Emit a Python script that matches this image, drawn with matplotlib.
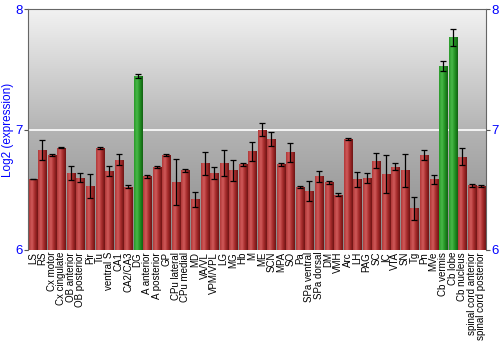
import numpy as np
import matplotlib
matplotlib.use("Agg")
import matplotlib.pyplot as plt
from matplotlib.colors import LinearSegmentedColormap

regions = ["LS", "RS", "Cx motor", "Cx cingulate", "OB anterior", "OB posterior", "Pir", "Tu",
           "ventral S", "CA1", "CA2/CA3", "DG", "A anterior", "A posterior", "GP", "CPu lateral",
           "CPu medial", "MD", "VA/VL", "VPM/VPL", "LG", "MG", "Hb", "M", "ME", "SCN", "MPA", "SO",
           "Pa", "SPa ventral", "SPa dorsal", "DM", "VMH", "Arc", "LH", "PAG", "SC", "IC", "VTA",
           "SN", "Tg", "Pn", "MVe", "Cb vermis", "Cb lobe", "Cb nucleus",
           "spinal cord anterior", "spinal cord posterior"]
values = [6.59, 6.83, 6.79, 6.85, 6.64, 6.60, 6.53, 6.845, 6.655, 6.75, 6.525, 7.445,
          6.61, 6.69, 6.79, 6.565, 6.66, 6.42, 6.72, 6.635, 6.72, 6.66, 6.71, 6.82,
          7.00, 6.92, 6.71, 6.81, 6.52, 6.49, 6.61, 6.56, 6.46, 6.92, 6.585, 6.595,
          6.74, 6.63, 6.69, 6.66, 6.345, 6.79, 6.585, 7.53, 7.765, 6.775, 6.535, 6.53]
errors = [0.003, 0.08, 0.01, 0.006, 0.06, 0.04, 0.10, 0.01, 0.045, 0.045, 0.01, 0.02,
          0.01, 0.01, 0.01, 0.19, 0.01, 0.06, 0.095, 0.05, 0.11, 0.09, 0.012, 0.08,
          0.055, 0.06, 0.01, 0.08, 0.01, 0.085, 0.045, 0.015, 0.015, 0.01, 0.066, 0.04,
          0.062, 0.16, 0.028, 0.135, 0.093, 0.043, 0.036, 0.04, 0.07, 0.07, 0.01, 0.008]
highlight = ["DG", "Cb vermis", "Cb lobe"]

red_map = LinearSegmentedColormap.from_list("r", ["#b03838", "#d05a5a", "#a42a2a", "#6e1414"])
green_map = LinearSegmentedColormap.from_list("g", ["#2a9a2a", "#48b848", "#229022", "#126212"])

fig = plt.figure(figsize=(5, 3.5), dpi=100)
ax = fig.add_axes([0.056, 0.286, 0.916, 0.688])

# background gradient
bg = LinearSegmentedColormap.from_list("bg", ["#888888", "#b4b4b4", "#f2f2f2"])
ax.imshow(np.linspace(0, 1, 256).reshape(-1, 1), cmap=bg, aspect="auto", origin="lower",
          extent=[-0.5, len(regions) - 0.5, 6, 8], zorder=0)
ax.axhline(7, color="white", lw=1.2, zorder=1)

x = np.arange(len(regions))
bars = ax.bar(x, np.array(values) - 6, bottom=6, width=0.84, color="none",
              edgecolor="#5a5a5a", linewidth=0.4, zorder=2)
grad = np.linspace(0, 1, 64).reshape(1, -1)
for xi, b, name, v in zip(x, bars, regions, values):
    cm = green_map if name in highlight else red_map
    im = ax.imshow(grad, cmap=cm, aspect="auto", extent=[xi - 0.42, xi + 0.42, 6, v], zorder=2)
    im.set_clip_path(b)
ax.errorbar(x, values, yerr=errors, fmt="none", ecolor="black", elinewidth=0.9,
            capsize=2, capthick=0.9, zorder=3)
ax.set_xlim(-0.5, len(regions) - 0.5)
ax.set_ylim(6, 8)

ax.set_xticks(x)
ax.set_xticklabels(regions, rotation=90, fontsize=7, family="Liberation Sans")
ax.tick_params(axis="x", length=0, pad=1.5)
ax.set_yticks([6, 7, 8])
ax.tick_params(axis="y", colors="#555555", labelcolor="blue", labelsize=9.5,
               direction="out", length=3, pad=1, right=True, labelright=True)
for lab in ax.get_yticklabels():
    lab.set_family("Liberation Sans")
ax.set_ylabel("Log2 (expression)", color="blue", fontsize=8.5, family="Liberation Sans", labelpad=1)
for s in ax.spines.values():
    s.set_color("#666666")
    s.set_linewidth(0.8)
ax.spines["bottom"].set_visible(False)

fig.savefig("out.png", dpi=100)
